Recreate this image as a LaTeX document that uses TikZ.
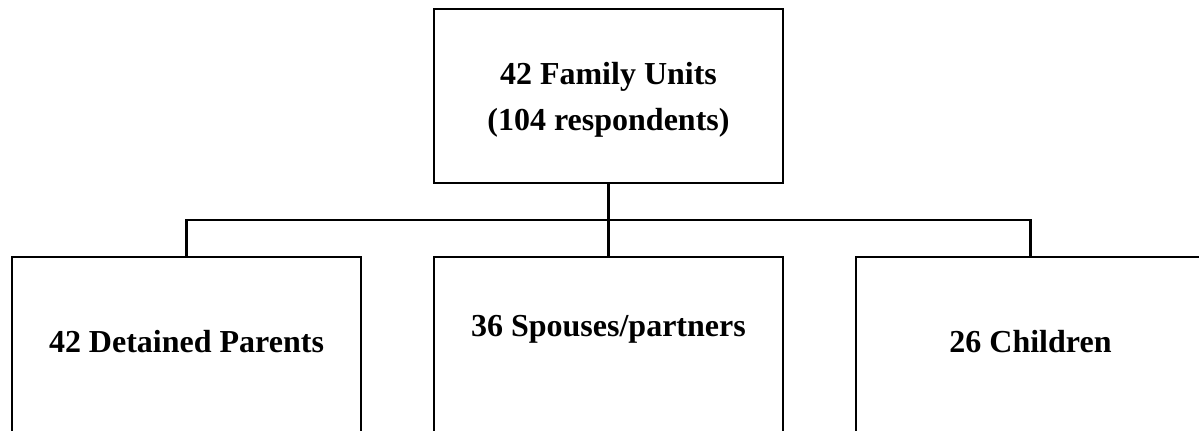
\documentclass[tikz,border=0pt]{standalone}
\usepackage{fontspec}
\setmainfont{Liberation Serif}
\usepackage{tikz}
\usetikzlibrary{positioning}
\tikzset{
    unit/.style={draw, line width=1.8pt, minimum width=261.75pt, minimum height=130.5pt, align=center, font=\bfseries\fontsize{24}{34.5}\selectfont},
    group/.style={unit, minimum height=132pt, text depth=6pt},
    link/.style={line width=1.8pt}
}
\begin{document}
\begin{tikzpicture}[node distance=52.95pt]
    \clip (-456.375pt,72pt) rectangle (442.875pt,-250.5pt);
    \node[unit, text depth=0pt] (fam) at (0,0) {42 Family Units\\(104 respondents)};
    \node[group, below=53.7pt of fam, text depth=28pt] (sps) {36 Spouses/partners};
    \node[group, left=of sps] (par) {42 Detained Parents};
    \node[group, right=of sps] (chd) {26 Children};
    \coordinate[below=26.85pt of fam] (bus);

    \draw[link] (fam) -- (sps);
    \draw[link] (par.north) |- (bus) -| (chd.north);
\end{tikzpicture}
\end{document}
